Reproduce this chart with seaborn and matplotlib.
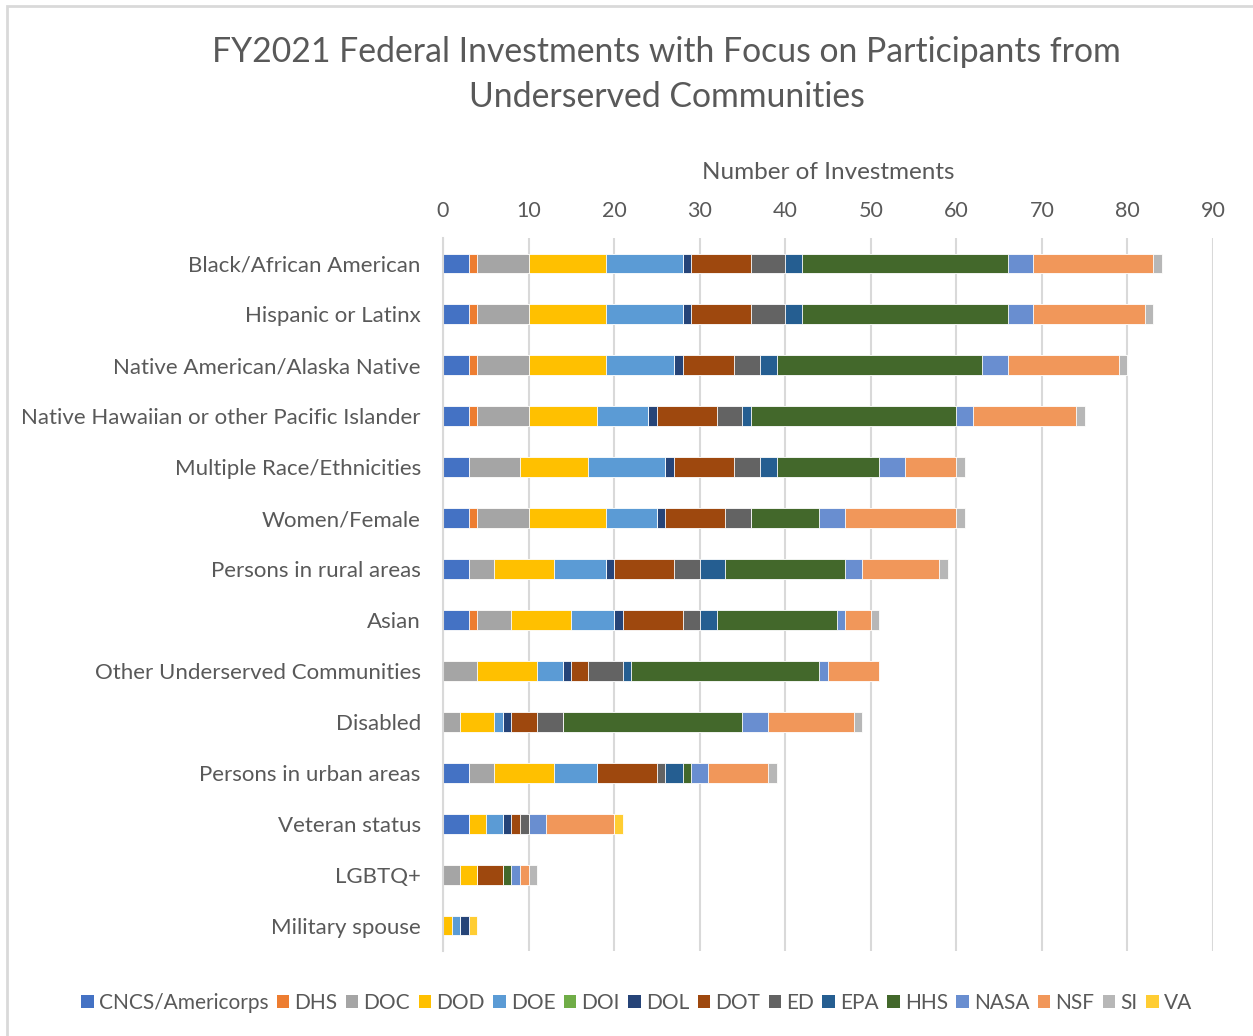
import numpy as np
import pandas as pd
import matplotlib
matplotlib.use("Agg")
import matplotlib.pyplot as plt
from matplotlib.patches import Patch, Rectangle
import seaborn as sns

# Categories (top to bottom)
categories = [
    "Black/African American", "Hispanic or Latinx", "Native American/Alaska Native",
    "Native Hawaiian or other Pacific Islander", "Multiple Race/Ethnicities",
    "Women/Female", "Persons in rural areas", "Asian", "Other Underserved Communities",
    "Disabled", "Persons in urban areas", "Veteran status", "LGBTQ+", "Military spouse",
]

agencies = ["CNCS/Americorps", "DHS", "DOC", "DOD", "DOE", "DOI", "DOL", "DOT",
            "ED", "EPA", "HHS", "NASA", "NSF", "SI", "VA"]

# Number of investments per agency, in the category order above
cncs = [3, 3, 3, 3, 3, 3, 3, 3, 0, 0, 3, 3, 0, 0]
dhs  = [1, 1, 1, 1, 0, 1, 0, 1, 0, 0, 0, 0, 0, 0]
doc  = [6, 6, 6, 6, 6, 6, 3, 4, 4, 2, 3, 0, 2, 0]
dod  = [9, 9, 9, 8, 8, 9, 7, 7, 7, 4, 7, 2, 2, 1]
doe  = [9, 9, 8, 6, 9, 6, 6, 5, 3, 1, 5, 2, 0, 1]
doi  = [0, 0, 0, 0, 0, 0, 0, 0, 0, 0, 0, 0, 0, 0]
dol  = [1, 1, 1, 1, 1, 1, 1, 1, 1, 1, 0, 1, 0, 1]
dot  = [7, 7, 6, 7, 7, 7, 7, 7, 2, 3, 7, 1, 3, 0]
ed   = [4, 4, 3, 3, 3, 3, 3, 2, 4, 3, 1, 1, 0, 0]
epa  = [2, 2, 2, 1, 2, 0, 3, 2, 1, 0, 2, 0, 0, 0]
hhs  = [24, 24, 24, 24, 12, 8, 14, 14, 22, 21, 1, 0, 1, 0]
nasa = [3, 3, 3, 2, 3, 3, 2, 1, 1, 3, 2, 2, 1, 0]
nsf  = [14, 13, 13, 12, 6, 13, 9, 3, 6, 10, 7, 8, 1, 0]
si   = [1, 1, 1, 1, 1, 1, 1, 1, 0, 1, 1, 0, 1, 0]
va   = [0, 0, 0, 0, 0, 0, 0, 0, 0, 0, 0, 1, 0, 1]

series = [cncs, dhs, doc, dod, doe, doi, dol, dot, ed, epa, hhs, nasa, nsf, si, va]

colors = ["#4472C4", "#ED7D31", "#A5A5A5", "#FFC000", "#5B9BD5", "#70AD47", "#264478",
          "#9E480E", "#636363", "#255E91", "#43682B", "#698ED0", "#F1975A", "#B7B7B7", "#FFCD33"]

df = pd.DataFrame(dict(zip(agencies, series)), index=categories)
cum = df.cumsum(axis=1)

sns.set_theme(style="white")
plt.rcParams["font.family"] = ["Lato", "DejaVu Sans"]
text_col = "#595959"
grid_col = "#D9D9D9"

fig = plt.figure(figsize=(12.53, 10.36), dpi=100)
ax = fig.add_axes([443 / 1253, 1 - 951 / 1036, 770 / 1253, 713 / 1036])

# stacked bars: draw cumulative totals from last agency to first
for name, col in reversed(list(zip(agencies, colors))):
    d = pd.DataFrame({"cat": categories, "val": cum[name].values})
    sns.barplot(data=d, x="val", y="cat", orient="h", color=col, width=0.39,
                saturation=1, edgecolor="white", linewidth=0.6, ax=ax)

ax.set_xlim(0, 90)
ax.set_ylim(len(categories) - 0.5, -0.5)
ax.set_xticks(np.arange(0, 91, 10))
ax.xaxis.tick_top()
ax.xaxis.set_label_position("top")
ax.set_xlabel("Number of Investments", fontsize=17.5, color=text_col, labelpad=16)
ax.set_ylabel("")
ax.tick_params(axis="x", length=0, labelsize=15.5, labelcolor=text_col, pad=12)
ax.tick_params(axis="y", which="major", length=0, labelsize=16, labelcolor=text_col, pad=16)
ax.set_yticks(np.arange(-0.5, len(categories), 1), minor=True)
ax.tick_params(axis="y", which="minor", length=6, color=grid_col, width=1.5, direction="out")
ax.grid(axis="x", color=grid_col, linewidth=1.5)
ax.set_axisbelow(True)
for s in ["top", "right", "bottom"]:
    ax.spines[s].set_visible(False)
ax.spines["left"].set_color(grid_col)
ax.spines["left"].set_linewidth(1.5)

fig.suptitle("FY2021 Federal Investments with Focus on Participants from\nUnderserved Communities",
             x=0.532, y=0.965, fontsize=24.3, color=text_col, linespacing=1.5)

handles = [Patch(facecolor=c, edgecolor="none") for c in colors]
fig.legend(handles, agencies, loc="center", bbox_to_anchor=(0.508, 0.032), ncol=15,
           frameon=False, fontsize=15, labelcolor=text_col, handlelength=0.6,
           handleheight=0.6, handletextpad=0.25, columnspacing=0.4)

# chart area border (left and top edges visible)
fig.add_artist(Rectangle((7 / 1253, -0.1), 1.2, 1 - 6 / 1036 + 0.1, transform=fig.transFigure,
                         fill=False, edgecolor=grid_col, linewidth=2))

fig.savefig("out.png", dpi=100)
